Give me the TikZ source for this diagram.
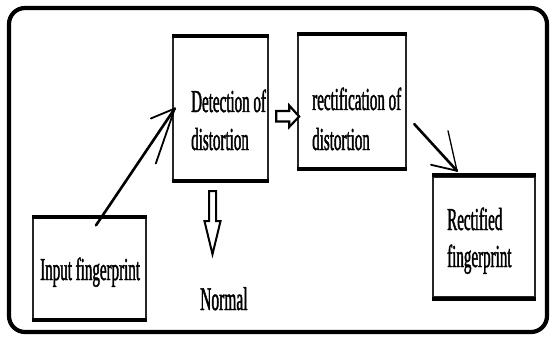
\documentclass[tikz,border=0pt]{standalone}
\usepackage{fontspec}
\setmainfont{Liberation Serif}[FakeStretch=0.47,FakeBold=1.2]
\begin{document}
\begin{tikzpicture}[x=1pt,y=-1pt,
  box/.style={draw=black!85, line width=2.4pt, inner sep=0pt},
  lbl/.style={anchor=base west, inner sep=0pt, font=\fontsize{32}{36}\selectfont},
  hollow/.style={draw=black, line width=2.2pt, line join=miter, fill=white},
  shaft/.style={line width=2.6pt, line cap=round},
  barb/.style={line width=1.8pt, line cap=round}]
\useasboundingbox (0,0) rectangle (553,339);
% outer frame
\draw[line width=4.2pt, rounded corners=16pt] (9,8) rectangle (547,332);

% process boxes
\node[box, minimum width=95pt, minimum height=143pt] (detect) at (220.5,108.5) {};
\node[box, minimum width=108pt, minimum height=133pt] (rectif) at (352,101.5) {};
\node[box, minimum width=102pt, minimum height=121pt] (result) at (484,237) {};
\node[box, minimum width=113pt, minimum height=101pt] (input) at (89.5,268.5) {};
% heavier top and bottom edges
\foreach \b in {detect,rectif,result,input}{
  \draw[line width=4pt] (\b.north west) -- (\b.north east);
  \draw[line width=4pt] (\b.south west) -- (\b.south east);
}

% labels
\node[lbl] (t1) at (191,112) {Detection of};
\node[lbl] (t2) at (191,150) {distortion};
\node[lbl] (t3) at (312,110) {rectification of};
\node[lbl] (t4) at (312,150) {distortion};
\node[lbl] (t5) at (447,230) {Rectified};
\node[lbl] (t6) at (447,267) {fingerprint};
\node[lbl] (t7) at (40,280) {Input fingerprint};
\node[lbl, font=\fontsize{33}{36}\selectfont] (t8) at (200,310) {Normal};

% input -> detection
\coordinate (a1s) at ([xshift=6.5pt,yshift=-8.5pt]input.north);
\coordinate (a1t) at ([xshift=3pt]detect.west);
\draw[shaft] (a1s) -- (a1t);
\draw[barb] (a1t) -- ++(-24,10);
\draw[barb] (a1t) -- ++(-19,55);

% rectification -> rectified fingerprint
\coordinate (a2s) at ([xshift=7pt,yshift=-22.5pt]rectif.east);
\coordinate (a2t) at ([xshift=-27pt,yshift=4.5pt]result.north);
\draw[shaft] (a2s) -- (a2t);
\draw[barb, line width=1.3pt] (a2t) -- ++(-9,-40);
\draw[barb] (a2t) -- ++(-26,-6);

% hollow block arrow between the two stages
\coordinate (h0) at ([xshift=7pt,yshift=-7.5pt]detect.east);
\draw[hollow] (h0) ++(0,-5) -- ++(13,0) -- ++(0,-5.5) -- ++(10,11) -- ++(-10,10.5)
  -- ++(0,-5.5) -- ++(-13,0) -- cycle;

% hollow block arrow down to "Normal"
\coordinate (v0) at ([xshift=-8pt,yshift=-10pt]detect.south);
\draw[hollow, line width=2pt] (v0) ++(-3.5,0) -- ++(0,30) -- ++(-4.5,0) -- ++(8,33)
  -- ++(8,-33) -- ++(-4.5,0) -- ++(0,-30) -- cycle;
\end{tikzpicture}
\end{document}
